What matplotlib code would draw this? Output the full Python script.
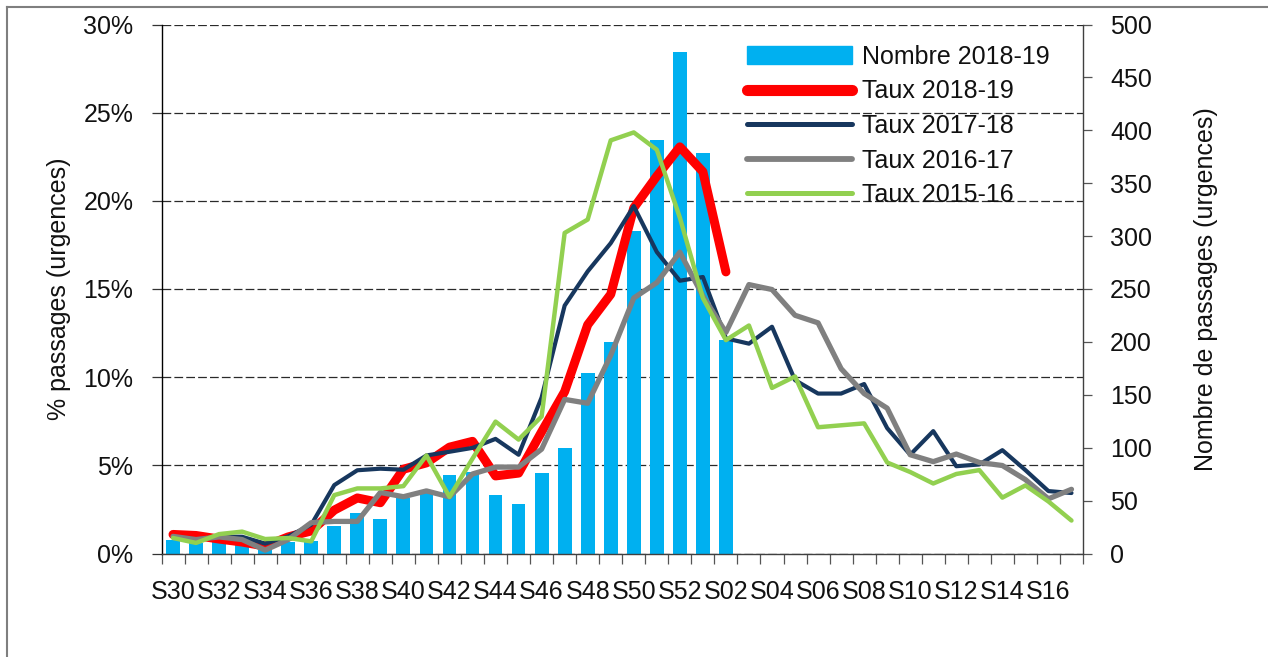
import matplotlib
matplotlib.use('Agg')
import matplotlib.pyplot as plt
from matplotlib.lines import Line2D
from matplotlib.patches import Patch
from matplotlib.ticker import FuncFormatter
import numpy as np

plt.rcParams['font.family'] = ['Liberation Sans', 'DejaVu Sans']

# ---------------- data ----------------
weeks = ['S30', 'S31', 'S32', 'S33', 'S34', 'S35', 'S36', 'S37', 'S38', 'S39',
         'S40', 'S41', 'S42', 'S43', 'S44', 'S45', 'S46', 'S47', 'S48', 'S49',
         'S50', 'S51', 'S52', 'S01', 'S02', 'S03', 'S04', 'S05', 'S06', 'S07',
         'S08', 'S09', 'S10', 'S11', 'S12', 'S13', 'S14', 'S15', 'S16', 'S17']

nombre_2018_19 = [13, 10, 11, 8, 3, 11, 12, 26, 38, 33, 52, 57, 74, 77, 55, 47,
                  76, 100, 171, 200, 305, 391, 474, 379, 202]

taux_2018_19 = [1.08, 1.02, 0.82, 0.65, 0.42, 0.94, 1.28, 2.46, 3.15, 2.88,
                4.78, 5.14, 6.03, 6.36, 4.40, 4.56, 6.90, 9.18, 12.97, 14.70,
                19.60, 21.40, 23.06, 21.65, 15.97]

taux_2017_18 = [0.94, 0.80, 0.95, 0.95, 0.56, 0.97, 1.63, 3.88, 4.72, 4.81,
                4.75, 5.56, 5.77, 5.99, 6.50, 5.60, 8.85, 14.06, 16.00, 17.60,
                19.70, 17.10, 15.47, 15.68, 12.20, 11.90, 12.86, 9.83, 9.07, 9.07,
                9.61, 7.11, 5.60, 6.94, 4.95, 5.05, 5.86, 4.73, 3.54, 3.43]

taux_2016_17 = [0.97, 0.79, 0.94, 0.79, 0.19, 0.79, 1.75, 1.82, 1.82, 3.46,
                3.22, 3.55, 3.21, 4.51, 4.90, 4.90, 5.92, 8.74, 8.52, 11.24,
                14.49, 15.36, 17.09, 14.60, 12.54, 15.25, 14.97, 13.51, 13.08, 10.48,
                9.07, 8.24, 5.60, 5.21, 5.64, 5.16, 4.99, 4.19, 3.10, 3.64]

taux_2015_16 = [0.88, 0.60, 1.10, 1.24, 0.82, 0.88, 0.69, 3.31, 3.69, 3.69,
                3.82, 5.56, 3.21, 5.38, 7.48, 6.46, 7.77, 18.18, 18.94, 23.43,
                23.88, 22.90, 19.05, 14.49, 12.10, 12.93, 9.39, 10.04, 7.16, 7.27,
                7.38, 5.16, 4.62, 3.97, 4.51, 4.73, 3.17, 3.86, 2.95, 1.87]

left_ticks = [0, 5, 10, 15, 20, 25, 30]
right_ticks = [0, 50, 100, 150, 200, 250, 300, 350, 400, 450, 500]

# ---------------- styles ----------------
c_bar = '#00B0F0'
c_red = '#FF0000'
c_navy = '#17375E'
c_gray = '#808080'
c_green = '#92D050'
txt = '#111111'
FS = 18

W, H = 1268, 657
fig = plt.figure(figsize=(W / 100, H / 100), dpi=100)
fig.patch.set_facecolor('white')

x0, x1, yb, yt = 161.5, 1083, 553.5, 24.5
rect = [x0 / W, (H - yb) / H, (x1 - x0) / W, (yb - yt) / H]

# bars axis (below), lines axis (above)
ax2 = fig.add_axes(rect)
ax = fig.add_axes(rect, sharex=ax2)
ax.set_zorder(ax2.get_zorder() + 1)
ax.patch.set_visible(False)

x = np.arange(len(weeks))
xb = np.arange(len(nombre_2018_19))

ax2.set_ylim(0, 500)
ax.set_ylim(0, 30)
ax2.set_xlim(-0.5, len(weeks) - 0.5)

# gridlines (drawn on the bar axis, behind bars)
for v in left_ticks:
    ax2.axhline(v * 500 / 30, color='#2a2a2a', lw=0.9, dashes=(7, 2.5), zorder=0)

ax2.bar(xb, nombre_2018_19, width=0.6, color=c_bar, zorder=2)

ax.plot(np.arange(len(taux_2018_19)), taux_2018_19, color=c_red, lw=6.5,
        solid_capstyle='round', solid_joinstyle='round')
ax.plot(x, taux_2017_18, color=c_navy, lw=3.0, solid_capstyle='round', solid_joinstyle='round')
ax.plot(x, taux_2016_17, color=c_gray, lw=3.8, solid_capstyle='round', solid_joinstyle='round')
ax.plot(x, taux_2015_16, color=c_green, lw=3.2, solid_capstyle='round', solid_joinstyle='round')

# spines
for a in (ax, ax2):
    a.spines['top'].set_visible(False)
ax.spines['right'].set_visible(False)
ax2.spines['left'].set_visible(False)
ax.spines['left'].set_color('black')
ax.spines['left'].set_linewidth(1.0)
ax2.spines['right'].set_color('#404040')
ax2.spines['right'].set_linewidth(1.0)
ax.spines['bottom'].set_color('#404040')
ax.spines['bottom'].set_linewidth(1.0)
ax2.spines['bottom'].set_visible(False)

# left axis ticks
ax.yaxis.tick_left()
ax.set_yticks(left_ticks)
ax.yaxis.set_major_formatter(FuncFormatter(lambda v, p: f'{v:.0f}%'))
ax.tick_params(axis='y', direction='out', length=7.2, width=0.9, color='#333333',
               labelsize=FS, labelcolor=txt, pad=13)
# right axis ticks
ax2.yaxis.tick_right()
ax2.yaxis.set_label_position('right')
ax2.set_yticks(right_ticks)
ax2.tick_params(axis='y', direction='out', length=6.5, width=0.9, color='#555555',
                labelsize=FS, labelcolor=txt, pad=13)

# x ticks: marks at category boundaries, labels every other category
ax.set_xticks(x[::2])
ax.set_xticklabels(weeks[::2])
ax.set_xticks(np.arange(len(weeks) + 1) - 0.5, minor=True)
ax.tick_params(axis='x', which='major', length=0, labelsize=FS, labelcolor=txt, pad=19)
ax.tick_params(axis='x', which='minor', direction='out', length=7, width=0.9, color='#555555')
ax2.tick_params(axis='x', which='both', bottom=False, labelbottom=False)

ax.set_ylabel('% passages (urgences)', fontsize=FS, color=txt, labelpad=9)
ax2.set_ylabel('Nombre de passages (urgences)', fontsize=FS, color=txt, labelpad=30)

# legend
handles = [Patch(facecolor=c_bar, edgecolor=c_bar),
           Line2D([], [], color=c_red, lw=8, solid_capstyle='round'),
           Line2D([], [], color=c_navy, lw=3.6, solid_capstyle='round'),
           Line2D([], [], color=c_gray, lw=4.2, solid_capstyle='round'),
           Line2D([], [], color=c_green, lw=3.6, solid_capstyle='round')]
labels = ['Nombre 2018-19', 'Taux 2018-19', 'Taux 2017-18', 'Taux 2016-17', 'Taux 2015-16']
leg = ax.legend(handles, labels, loc='upper left', bbox_to_anchor=(747 / W, 1 - 45 / H),
                bbox_transform=fig.transFigure, frameon=False, fontsize=FS,
                handlelength=4.2, handleheight=0.75, handletextpad=0.4,
                labelspacing=0.42, borderpad=0, borderaxespad=0)
for t in leg.get_texts():
    t.set_color(txt)

# figure border (top and left)
fig.add_artist(Line2D([7 / W, 1], [1 - 7 / H, 1 - 7 / H], transform=fig.transFigure,
                      color='#7f7f7f', lw=1.5))
fig.add_artist(Line2D([7 / W, 7 / W], [0, 1 - 7 / H], transform=fig.transFigure,
                      color='#7f7f7f', lw=1.5))

fig.savefig('out.png', dpi=100, facecolor='white')
